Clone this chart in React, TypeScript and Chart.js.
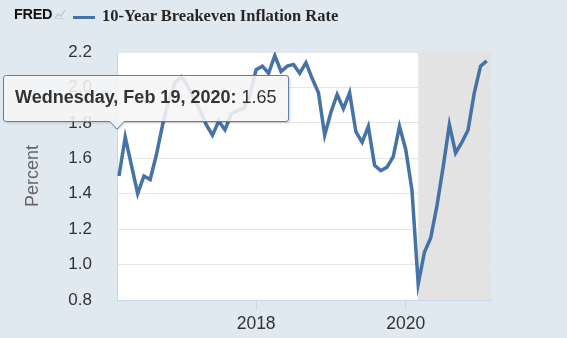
import React, { useEffect, useRef } from "react";
import { Chart, registerables } from "chart.js";

Chart.register(...registerables);

// ---- data ----
const months: string[] = [
  "2016-03", "2016-04", "2016-05", "2016-06", "2016-07", "2016-08", "2016-09", "2016-10", "2016-11", "2016-12",
  "2017-01", "2017-02", "2017-03", "2017-04", "2017-05", "2017-06", "2017-07", "2017-08", "2017-09", "2017-10", "2017-11", "2017-12",
  "2018-01", "2018-02", "2018-03", "2018-04", "2018-05", "2018-06", "2018-07", "2018-08", "2018-09", "2018-10", "2018-11", "2018-12",
  "2019-01", "2019-02", "2019-03", "2019-04", "2019-05", "2019-06", "2019-07", "2019-08", "2019-09", "2019-10", "2019-11", "2019-12",
  "2020-01", "2020-02", "2020-03", "2020-04", "2020-05", "2020-06", "2020-07", "2020-08", "2020-09", "2020-10", "2020-11", "2020-12",
  "2021-01", "2021-02",
];

const breakevenRate: number[] = [
  1.50, 1.72, 1.56, 1.40, 1.50, 1.48, 1.62, 1.79, 1.93, 2.03,
  2.06, 2.01, 1.94, 1.87, 1.79, 1.73, 1.81, 1.76, 1.85, 1.87, 1.88, 1.96,
  2.10, 2.12, 2.08, 2.18, 2.09, 2.12, 2.13, 2.08, 2.14, 2.05, 1.97, 1.73,
  1.86, 1.96, 1.88, 1.97, 1.75, 1.69, 1.78, 1.56, 1.53, 1.55, 1.61, 1.78,
  1.65, 1.42, 0.89, 1.07, 1.15, 1.33, 1.55, 1.79, 1.63, 1.69, 1.76, 1.97,
  2.12, 2.15,
];

const yTickValues: number[] = [0.8, 1.0, 1.2, 1.4, 1.6, 1.8, 2.0, 2.2];
const xTickYears: number[] = [2018, 2020];
const recessionStart = "2020-03";
const seriesTitle = "10-Year Breakeven Inflation Rate";
const yAxisTitle = "Percent";
const tooltipDate = "Wednesday, Feb 19, 2020:";
const tooltipValue = "1.65";

const SANS = "'Liberation Sans', Arial, Helvetica, sans-serif";
const SERIF = "'Liberation Serif', 'Times New Roman', serif";
const LINE_COLOR = "#4572a7";

function toYear(m: string): number {
  const [y, mo] = m.split("-").map(Number);
  return y + (mo - 1) / 12;
}

const plotBgPlugin = {
  id: "plotBg",
  beforeDraw(chart: any) {
    const { ctx, chartArea, scales } = chart;
    if (!chartArea) return;
    const { left, top, right, bottom } = chartArea;
    ctx.save();
    ctx.fillStyle = "#ffffff";
    ctx.fillRect(left, top, right - left, bottom - top);
    const xs = scales.x.getPixelForValue(toYear(recessionStart));
    ctx.fillStyle = "#e3e3e3";
    ctx.fillRect(xs, top, right - xs, bottom - top);
    ctx.restore();
  },
};

function ChartView() {
  const ref = useRef<HTMLCanvasElement | null>(null);
  useEffect(() => {
    if (!ref.current) return;
    const data = months.map((m, i) => ({ x: toYear(m), y: breakevenRate[i] }));
    const chart = new Chart(ref.current, {
      type: "line",
      data: {
        datasets: [
          {
            label: seriesTitle,
            data,
            borderColor: LINE_COLOR,
            borderWidth: 3.5,
            pointRadius: 0,
            tension: 0,
            fill: false,
          },
        ],
      },
      options: {
        animation: false,
        responsive: false,
        maintainAspectRatio: false,
        layout: { padding: { left: 0, top: 52, right: 76, bottom: 0 } },
        plugins: {
          legend: { display: false },
          tooltip: { enabled: false },
          title: { display: false },
        },
        scales: {
          x: {
            type: "linear",
            min: 2016.14,
            max: 2021.14,
            afterBuildTicks: (s: any) => {
              s.ticks = xTickYears.map((v) => ({ value: v }));
            },
            afterFit: (s: any) => {
              s.height = 38;
            },
            ticks: {
              autoSkip: false,
              maxRotation: 0,
              padding: 4,
              color: "#333333",
              font: { family: SANS, size: 17.5 },
              callback: (v: any) => String(v),
            },
            grid: {
              drawOnChartArea: false,
              drawTicks: true,
              tickLength: 10,
              color: "#ccd6eb",
            },
            border: { display: true, color: "#ccd6eb" },
          },
          y: {
            min: 0.8,
            max: 2.2,
            afterBuildTicks: (s: any) => {
              s.ticks = yTickValues.map((v) => ({ value: v }));
            },
            afterFit: (s: any) => {
              s.width = 117;
            },
            ticks: {
              padding: 25,
              color: "#333333",
              font: { family: SANS, size: 17 },
              callback: (v: any) => Number(v).toFixed(1),
            },
            grid: { color: "#e6e6e6", drawTicks: false },
            border: { display: true, color: "#ccd6eb" },
            title: {
              display: true,
              text: yAxisTitle,
              color: "#666666",
              font: { family: SANS, size: 18 },
              padding: { top: 22, bottom: 0 },
            },
          },
        },
      },
      plugins: [plotBgPlugin],
    } as any);
    return () => chart.destroy();
  }, []);
  return <canvas ref={ref} width={567} height={338} style={{ position: "absolute", left: 0, top: 0, width: 567, height: 338 }} />;
}

export default function App() {
  return (
    <div
      style={{
        position: "absolute",
        left: 0,
        top: 0,
        width: 567,
        height: 338,
        background: "#e1e9f0",
        overflow: "hidden",
      }}
    >
      <ChartView />
      {/* header */}
      <div
        style={{
          position: "absolute",
          left: 14,
          top: 5,
          fontFamily: SANS,
          fontWeight: 900,
          fontSize: 14.5,
          lineHeight: "18px",
          color: "#111",
          letterSpacing: -0.3,
        }}
      >
        FRED
      </div>
      <svg style={{ position: "absolute", left: 54, top: 8 }} width={12} height={11}>
        <polyline points="1,10 4,6 7,8 11,2" fill="none" stroke="#b8c4cf" strokeWidth={1.2} />
        <line x1={1} y1={10.5} x2={11} y2={10.5} stroke="#c9d2da" strokeWidth={1} />
      </svg>
      <div style={{ position: "absolute", left: 73, top: 15.5, width: 22, height: 3, background: LINE_COLOR }} />
      <div
        style={{
          position: "absolute",
          left: 102,
          top: 6,
          fontFamily: SERIF,
          fontWeight: 700,
          fontSize: 16.5,
          lineHeight: "20px",
          color: "#262626",
          whiteSpace: "nowrap",
        }}
      >
        {seriesTitle}
      </div>
      {/* static tooltip */}
      <svg style={{ position: "absolute", left: 0, top: 0, overflow: "visible" }} width={567} height={338}>
        <defs>
          <filter id="tipShadow" x="-10%" y="-30%" width="120%" height="160%">
            <feDropShadow dx="1" dy="1" stdDeviation="1" floodColor="#000" floodOpacity="0.18" />
          </filter>
        </defs>
        <path
          d="M6.5,75.5 H286 Q288.5,75.5 288.5,78 V119 Q288.5,121.5 286,121.5 H124 L117,129 L110,121.5 H6.5 Q3.5,121.5 3.5,119 V78 Q3.5,75.5 6.5,75.5 Z"
          fill="rgba(248,248,248,0.86)"
          stroke="#5b7fad"
          strokeWidth={1}
          filter="url(#tipShadow)"
        />
      </svg>
      <div
        style={{
          position: "absolute",
          left: 15,
          top: 85,
          fontFamily: SANS,
          fontSize: 18,
          lineHeight: "24px",
          color: "#333333",
          whiteSpace: "nowrap",
        }}
      >
        <span style={{ fontWeight: 700 }}>{tooltipDate}</span> {tooltipValue}
      </div>
    </div>
  );
}
